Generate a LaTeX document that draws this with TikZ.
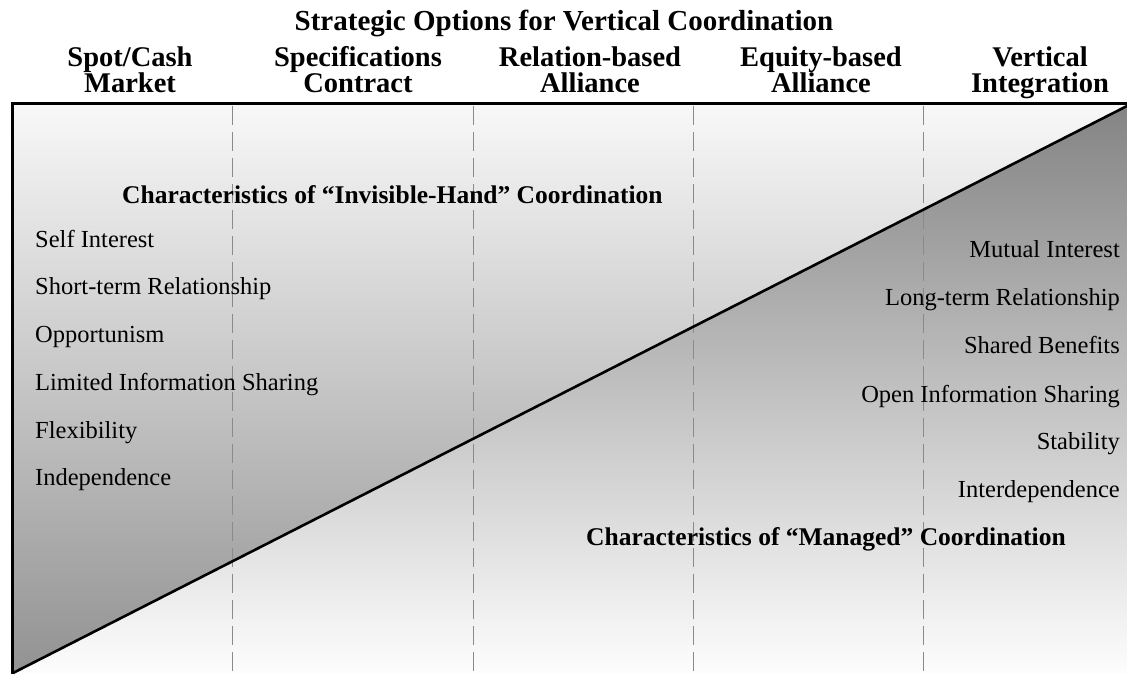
\documentclass[tikz,border=0pt]{standalone}
\usepackage{fontspec}
\setmainfont{Liberation Serif}
\definecolor{upTop}{HTML}{F8F8F8}
\definecolor{upBot}{HTML}{929292}
\definecolor{loTop}{HTML}{848484}
\definecolor{loBot}{HTML}{FDFDFD}
\definecolor{dashcol}{HTML}{8A8A8A}
\begin{document}
\begin{tikzpicture}[x=1pt,y=-1pt,
  titletext/.style={font=\fontsize{29}{32}\selectfont\bfseries, inner sep=0pt, anchor=base},
  colhead/.style={font=\fontsize{28.5}{26}\selectfont\bfseries, inner sep=0pt, anchor=base},
  subhead/.style={font=\fontsize{25.5}{28}\selectfont\bfseries, inner sep=0pt, anchor=base west},
  lefttext/.style={font=\fontsize{24.5}{28}\selectfont, inner sep=0pt, anchor=base west},
  righttext/.style={font=\fontsize{24.5}{28}\selectfont, inner sep=0pt, anchor=base east},
  divider/.style={draw=dashcol, line width=1pt, dash pattern=on 19pt off 7pt},
  frame/.style={line width=3pt, line cap=rect},
  diag/.style={line width=2.6pt}
]
\useasboundingbox (0,0) rectangle (1127,674);
% corner coordinates
\coordinate (TL) at (12,104);
\coordinate (TR) at (1127,104);
\coordinate (DR) at (1127,106);
\coordinate (BL) at (13,673);
\coordinate (BR) at (1127,674);
\coordinate (BL0) at (12,674);
% shaded halves
\shade[top color=upTop, bottom color=upBot] (TL) -- (TR) -- (DR) -- (BL) -- (BL0) -- cycle;
\shade[top color=loTop, bottom color=loBot] (BL) -- (DR) -- (BR) -- (BL0) -- cycle;
% column dividers
\foreach \xx/\nm in {232/d1, 473/d2, 693/d3, 923/d4}{
  \coordinate (\nm t) at (\xx,106);
  \coordinate (\nm b) at (\xx,674);
  \draw[divider] (\nm t) -- (\nm b);
}
% diagonal
\draw[diag] (BL) -- (DR);
% frame
\draw[frame] (BL0) -- (TL) -- (TR);
% title
\node[titletext] (title) at (564,31) {Strategic Options for Vertical Coordination};
% column headers
\node[colhead] (h1a) at (130,67) {Spot/Cash};
\node[colhead] (h1b) at (130,93) {Market};
\node[colhead] (h2a) at (358,67) {Specifications};
\node[colhead] (h2b) at (358,93) {Contract};
\node[colhead] (h3a) at (590,67) {Relation-based};
\node[colhead] (h3b) at (590,93) {Alliance};
\node[colhead] (h4a) at (821,67) {Equity-based};
\node[colhead] (h4b) at (821,93) {Alliance};
\node[colhead] (h5a) at (1040,67) {Vertical};
\node[colhead] (h5b) at (1040,93) {Integration};
% sub headings
\node[subhead] (ih) at (122,203) {Characteristics of “Invisible-Hand” Coordination};
\node[subhead] (mg) at (586,545) {Characteristics of “Managed” Coordination};
% left list
\node[lefttext] (l1) at (35,247) {Self Interest};
\node[lefttext] (l2) at (35,294) {Short-term Relationship};
\node[lefttext] (l3) at (35,342) {Opportunism};
\node[lefttext] (l4) at (35,390) {Limited Information Sharing};
\node[lefttext] (l5) at (35,438) {Flexibility};
\node[lefttext] (l6) at (35,485) {Independence};
% right list
\node[righttext] (r1) at (1120,257) {Mutual Interest};
\node[righttext] (r2) at (1120,305) {Long-term Relationship};
\node[righttext] (r3) at (1120,353) {Shared Benefits};
\node[righttext] (r4) at (1120,402) {Open Information Sharing};
\node[righttext] (r5) at (1120,449) {Stability};
\node[righttext] (r6) at (1120,497) {Interdependence};
\end{tikzpicture}
\end{document}
